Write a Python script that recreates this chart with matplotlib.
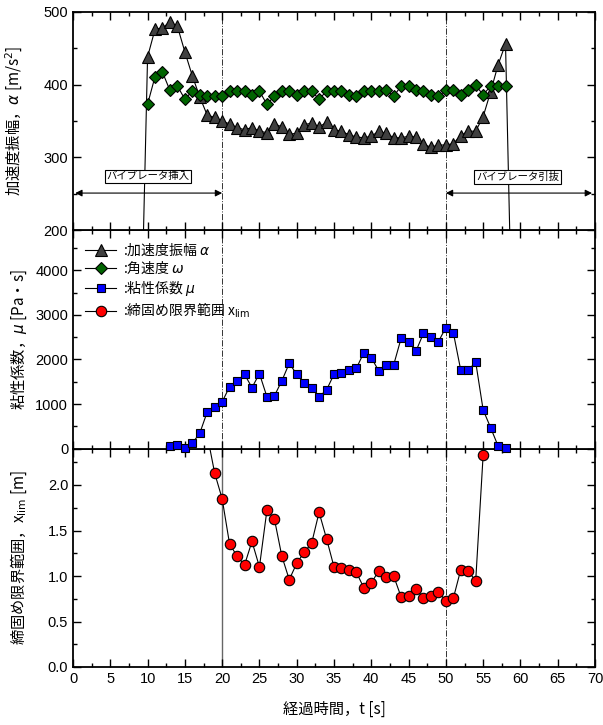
import matplotlib
matplotlib.use("Agg")
import matplotlib.pyplot as plt
from matplotlib.ticker import MultipleLocator
import numpy as np

plt.rcParams['font.family'] = ['Noto Sans CJK JP', 'DejaVu Sans']
plt.rcParams['mathtext.fontset'] = 'dejavusans'

# --- data ---
t_acc = [9, 10, 11, 12, 13, 14, 15, 16, 17, 18, 19, 20, 21, 22, 23, 24, 25, 26, 27, 28,
         29, 30, 31, 32, 33, 34, 35, 36, 37, 38, 39, 40, 41, 42, 43, 44, 45, 46, 47, 48,
         49, 50, 51, 52, 53, 54, 55, 56, 57, 58, 59]
acc = [0, 438, 476, 478, 486, 480, 445, 412, 383, 358, 355, 350, 346, 341, 338, 341, 336, 334, 346, 342,
       332, 333, 345, 347, 342, 348, 338, 336, 331, 328, 327, 329, 336, 333, 327, 327, 329, 328, 318, 314,
       317, 317, 319, 330, 336, 336, 356, 390, 427, 456, 0]

t_omega = [10, 11, 12, 13, 14, 15, 16, 17, 18, 19, 20, 21, 22, 23, 24, 25, 26, 27, 28, 29,
           30, 31, 32, 33, 34, 35, 36, 37, 38, 39, 40, 41, 42, 43, 44, 45, 46, 47, 48, 49,
           50, 51, 52, 53, 54, 55, 56, 57, 58]
omega = [373, 411, 417, 392, 398, 380, 391, 386, 385, 385, 385, 391, 391, 391, 386, 391, 373, 384, 391, 391,
         386, 391, 391, 380, 391, 391, 391, 386, 384, 391, 391, 391, 392, 384, 398, 398, 393, 391, 386, 384,
         392, 392, 386, 392, 399, 386, 398, 398, 398]

t_mu = [13, 14, 15, 16, 17, 18, 19, 20, 21, 22, 23, 24, 25, 26, 27, 28, 29, 30, 31, 32,
        33, 34, 35, 36, 37, 38, 39, 40, 41, 42, 43, 44, 45, 46, 47, 48, 49, 50, 51, 52,
        53, 54, 55, 56, 57, 58]
mu = [60, 83, 10, 120, 345, 823, 942, 1047, 1390, 1518, 1668, 1368, 1682, 1166, 1182, 1518, 1914, 1668, 1480, 1368,
      1166, 1316, 1668, 1705, 1765, 1802, 2153, 2041, 1743, 1877, 1877, 2475, 2400, 2191, 2587, 2512, 2400, 2714, 2602, 1757,
      1757, 1944, 868, 471, 60, 10]

t_xlim = [18, 19, 20, 21, 22, 23, 24, 25, 26, 27, 28, 29, 30, 31, 32, 33, 34, 35, 36, 37,
          38, 39, 40, 41, 42, 43, 44, 45, 46, 47, 48, 49, 50, 51, 52, 53, 54, 55]
xlim = [2.55, 2.13, 1.85, 1.35, 1.22, 1.12, 1.38, 1.10, 1.72, 1.63, 1.22, 0.96, 1.14, 1.26, 1.36, 1.70, 1.41, 1.10, 1.085, 1.07,
        1.04, 0.87, 0.92, 1.06, 0.985, 1.00, 0.77, 0.78, 0.86, 0.755, 0.78, 0.82, 0.73, 0.755, 1.07, 1.055, 0.945, 2.33]

t_insert, t_pull = 20, 50

fig = plt.figure(figsize=(6.03, 7.25), dpi=100)
L, W = 73/603., 522/603.
H = 218.4/725.
B0 = 1 - 667/725.
ax3 = fig.add_axes([L, B0, W, H])
ax2 = fig.add_axes([L, B0 + H, W, H])
ax1 = fig.add_axes([L, B0 + 2*H, W, H])

numfont = dict(family=['Liberation Sans', 'DejaVu Sans'], size=10.5)

def series(ax, t, v, marker, fc, ms, lo, hi, label=None):
  t = np.asarray(t, float); v = np.asarray(v, float)
  ax.plot(t, v, '-', color='black', lw=0.8, zorder=3)
  m = (v >= lo) & (v <= hi)
  ax.plot(t[m], v[m], ls='none', marker=marker, mfc=fc, mec='black', mew=0.8, ms=ms,
          clip_on=False, zorder=5)
  return ax.plot([], [], '-', color='black', lw=0.8, marker=marker, mfc=fc, mec='black',
                 mew=0.8, ms=ms, label=label)[0]

h_acc = series(ax1, t_acc, acc, '^', '#404040', 9, 200, 500, ':加速度振幅 $\\alpha$')
h_om = series(ax1, t_omega, omega, 'D', '#006400', 6.5, 200, 500, ':角速度 $\\omega$')
h_mu = series(ax2, t_mu, mu, 's', '#0000ff', 6, 0, 4900, ':粘性係数 $\\mu$')
h_x = series(ax3, t_xlim, xlim, 'o', '#ff0000', 7.5, 0, 2.4, ':締固め限界範囲 x$_{\\mathrm{lim}}$')

ax1.set_ylim(200, 500)
ax2.set_ylim(0, 4900)
ax3.set_ylim(0, 2.4)

for ax in (ax1, ax2, ax3):
  ax.set_xlim(0, 70)
  ax.xaxis.set_major_locator(MultipleLocator(5))
  ax.xaxis.set_minor_locator(MultipleLocator(2.5))
  ax.tick_params(which='both', direction='in', top=True, right=True, width=1.0)
  ax.tick_params(which='major', length=6)
  ax.tick_params(which='minor', length=3)
  for s in ax.spines.values():
    s.set_linewidth(1.3)
  ax.axvline(t_pull, color='#333333', lw=0.7, ls='-.', zorder=1)

ax1.axvline(t_insert, color='#333333', lw=0.7, ls='-.', zorder=1)
ax2.axvline(t_insert, color='#333333', lw=0.7, ls='-.', zorder=1)
ax3.axvline(t_insert, color='#666666', lw=1.0, ls='-', zorder=1)

ax1.yaxis.set_minor_locator(MultipleLocator(50))
ax2.yaxis.set_minor_locator(MultipleLocator(500))
ax3.yaxis.set_minor_locator(MultipleLocator(0.25))
ax1.set_yticks([200, 300, 400, 500])
ax1.set_yticklabels(['200', '300', '400', '500'], **numfont)
ax2.set_yticks([0, 1000, 2000, 3000, 4000])
ax2.set_yticklabels(['0', '1000', '2000', '3000', '4000'], **numfont)
ax3.set_yticks([0, 0.5, 1.0, 1.5, 2.0])
ax3.set_yticklabels(['0.0', '0.5', '1.0', '1.5', '2.0'], **numfont)
ax1.tick_params(labelbottom=False)
ax2.tick_params(labelbottom=False)
ax3.set_xticks(range(0, 71, 5))
ax3.set_xticklabels([str(v) for v in range(0, 71, 5)], **numfont)

ax1.set_ylabel('加速度振幅，$\\alpha$ [m/s$^2$]', fontsize=11)
ax2.set_ylabel('粘性係数，$\\mu$ [Pa・s]', fontsize=11)
ax3.set_ylabel('締固め限界範囲，x$_{\\mathrm{lim}}$ [m]', fontsize=11)
ax3.set_xlabel('経過時間，t [s]', fontsize=11, labelpad=11)
# ylabel anchor is the right edge of the rotated text
ax1.yaxis.set_label_coords(-(73 - 25) / 522., 0.5)
ax2.yaxis.set_label_coords(-(73 - 29) / 522., 0.5)
ax3.yaxis.set_label_coords(-(73 - 29) / 522., 0.5)

# vibrator insert / pull-out arrows
ax1.annotate('', xy=(0.3, 251), xytext=(t_insert, 251),
             arrowprops=dict(arrowstyle='<|-|>', color='black', lw=0.8, shrinkA=0, shrinkB=0,
                             mutation_scale=10))
ax1.annotate('', xy=(t_pull, 251), xytext=(69.6, 251),
             arrowprops=dict(arrowstyle='<|-|>', color='black', lw=0.8, shrinkA=0, shrinkB=0,
                             mutation_scale=10))
bb = dict(boxstyle='square,pad=0.15', fc='white', ec='black', lw=0.8)
ax1.text(10, 274, 'バイブレータ挿入', fontsize=7.5, ha='center', va='center', bbox=bb, zorder=6)
ax1.text(59.6, 273, 'バイブレータ引抜', fontsize=7.5, ha='center', va='center', bbox=bb, zorder=6)

ax2.legend(handles=[h_acc, h_om, h_mu, h_x], loc='upper left', bbox_to_anchor=(0.013, 0.975),
           frameon=False, fontsize=10, handlelength=2.2, handletextpad=0.5,
           labelspacing=0.18, borderaxespad=0.2, borderpad=0.2)

fig.savefig('out.png', dpi=100)
